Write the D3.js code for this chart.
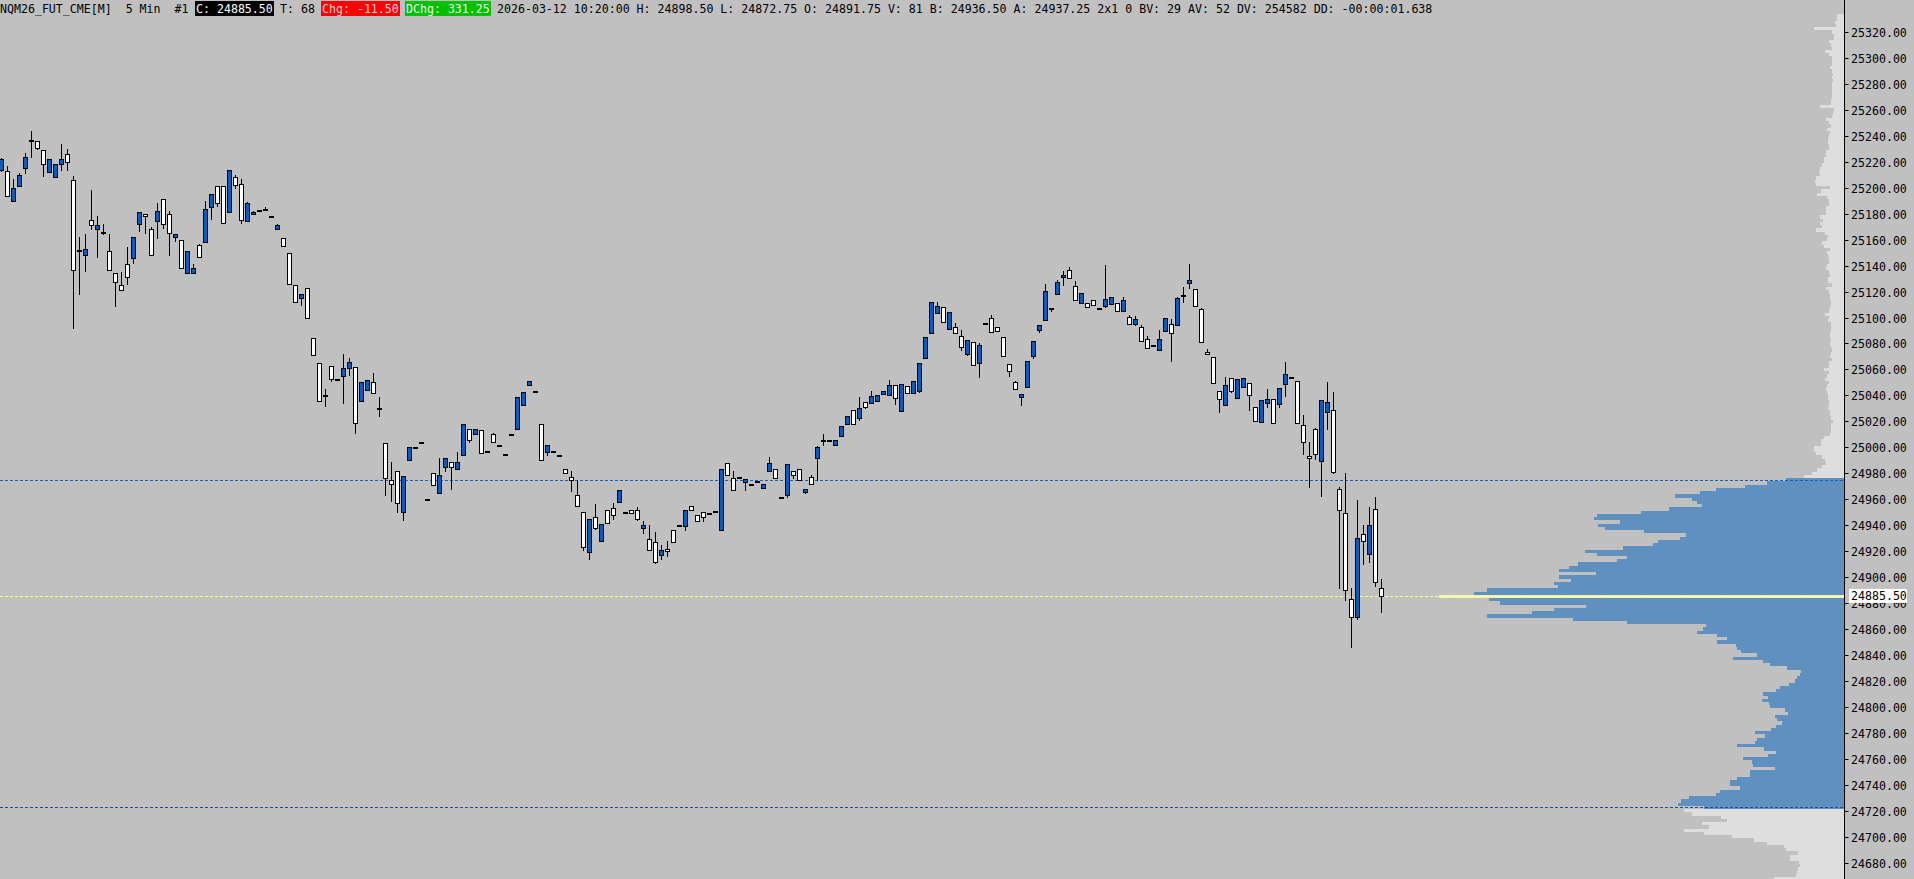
<!DOCTYPE html>
<html>
<head>
<meta charset="utf-8">
<script src="https://cdn.jsdelivr.net/npm/d3@7"></script>
<style>
  html, body { margin: 0; padding: 0; background: #c0c0c0; overflow: hidden; }
  svg { display: block; }
</style>
</head>
<body>
<svg id="chart"></svg>
<script>
var width = 1914;
var height = 879;
var axisX = 1844.5;

// 5 min bars, oldest first
var opens = [25214,25213,25190,25201,25215,25236,25236,25229,25212,25208,25218,25226,25206,25151,25148,25175,25168,25166,25151,25134,
  25125,25141,25146,25172,25180,25168,25174,25191,25180,25162,25160,25134,25134,25156,25158,25185,25201,25201,25181,25208,
  25203,25174,25180,25183,25183,25178,25168,25161,25150,25125,25115,25123,25084,25065,25040,25063,25053,25055,25061,25062,
  25036,25044,25050,25030,25003,24975,24982,24950,24990,25000,25004,24960,24980,24964.5,24984.5,24989,24983,24994,25014,25010,
  25013,24997,25010,25001.75,24994.5,25010.25,25014,25032.5,25048,25043.25,25018,24996,24997,24994,24983,24977,24963,24950,24919,24946,
  24928,24952,24953,24957.5,24950,24952,24952,24938,24929,24927,24916.75,24922,24936,24940,24939,24954.5,24948,24950,24949,24950.75,
  24936.5,24987.75,24976,24977,24973,24971.5,24974.25,24968.5,24981.5,24983,24962,24963,24981.5,24983,24965.25,24977,24992,25006,25006,25002,
  25008.5,25017.75,25028.5,25022.5,25034.75,25034,25035.5,25041,25040.25,25048,25028,25047.25,25041.75,25043.25,25068.75,25088,25103.5,25108,25091,25092.75,
  25085.75,25072,25081,25065,25095.75,25099.75,25092.75,25085,25064.25,25050.25,25038.75,25046.5,25070.25,25090.5,25098,25107.25,25118.25,25131.5,25136.75,25124.5,
  25111.25,25111.25,25113.5,25107.5,25109,25110.5,25111.25,25105,25100.5,25095,25092.75,25083.5,25079,25075,25089.75,25095,25094.25,25117,25126.75,25122,
  25106.75,25073.5,25069.5,25043.25,25032.5,25053.5,25038,25046.5,25049.5,25031,25019.5,25034,25037.25,25033.25,25048.75,25054,25051,25017,24993,25014,
  24989.25,25027,25028.75,24967.75,24949,24882.75,24869.5,24933,24917.5,24952.25,24891.75];
var highs = [25223,25217,25207,25211,25227,25244,25236,25229,25222,25218,25234,25230,25209,25162,25164,25198,25178,25172,25164,25134,
  25135,25154,25162,25181,25180,25170,25188,25191,25182,25164,25160,25151,25141,25157,25190,25195,25201,25201,25214,25210,
  25207,25189,25182,25183,25185,25178,25172,25161,25150,25125,25118,25123,25084,25065,25045,25063,25053,25072,25069,25062,
  25050,25052,25057,25039,25003,24989,24982,24978,25000,25000,25004,24960,24980,24992,24991.5,24989,24996,25018,25014,25014,
  25013,24997,25011,25001.75,24994.5,25010.25,25039,25042.5,25051,25043.25,25018,25002,24997,24994,24983,24982,24975,24950,24945,24956,
  24941,24952,24957,24967,24950,24952,24954,24943,24940,24935,24925,24927.5,24936,24940,24952,24954.5,24948,24950,24949,24950.75,
  24983,24987.75,24982,24977,24975.5,24971.5,24974.25,24971.5,24992.5,24983,24962,24987,24981.5,24983,24967.5,24978.5,25001,25010,25006,25006,
  25016.25,25024,25028.5,25038.75,25034.75,25043.25,25040.25,25043.25,25051.75,25048,25048.75,25047.25,25051,25065,25085,25112,25112,25108,25104.25,25095.75,
  25090.5,25082.75,25081,25080.5,25095.75,25102,25092.75,25085,25064.25,25051,25041,25066.5,25082,25094.25,25126,25107.25,25129,25136,25139,25128.25,
  25119,25111.25,25113.5,25107.5,25140.5,25116,25111.25,25116,25102,25101.25,25094.25,25085.75,25079,25090.5,25099.75,25099,25116,25123.5,25141.5,25122,
  25107.5,25075.75,25069.5,25043.25,25054,25053.5,25052.5,25053.5,25049.5,25031,25036.5,25045,25037.25,25045.5,25065.75,25054,25051,25024.75,25004,25014.75,
  25036.5,25050.25,25042.5,24969.25,24980,24891.25,24959.25,24940,24953.75,24961.5,24898.5];
var lows = [25213,25194,25190,25201,25211,25224,25230,25209,25212,25208,25214,25214,25092,25118,25136,25168,25147,25164,25137,25109,
  25121,25126,25142,25167,25165,25148,25161,25169,25148,25159,25138,25134,25134,25147,25158,25176,25186,25173,25181,25200,
  25173,25174,25180,25183,25183,25178,25168,25155,25126,25112,25110,25100,25071,25036,25031.5,25051,25053,25034,25056,25011,
  25036,25044,25042,25024,24963,24959,24950,24944,24990,25000,25004,24960,24971,24964.5,24982,24968,24983,24994,25004,25010,
  24995.5,24997,25004,25001.5,24994.5,25010,25014,25032.5,25048,25043.25,24990,24994,24997,24994,24980,24966,24954.5,24921,24914,24937,
  24928,24942,24945,24957.5,24950,24949,24944,24934,24920.5,24910.5,24914,24916,24927,24940,24936,24952,24943,24943,24949,24950.5,
  24936,24979,24967,24977,24967,24971.5,24974,24968.5,24981.5,24976,24960.75,24961.5,24976,24974.5,24964.5,24971.5,24974.5,25002,25006,25002,
  25008.5,25017.75,25017.75,25021,25030,25034,25035.5,25041,25040.25,25033.25,25028,25041.75,25041.75,25042.5,25068.75,25088,25103.5,25096.5,25091,25088,
  25075,25071,25063.5,25054,25095.75,25089,25089.5,25070.25,25055,25044.75,25032.5,25046.5,25068.75,25089,25098,25105,25118.25,25125.25,25130.5,25113.5,
  25111.25,25108.25,25109.75,25107.5,25108.25,25110.5,25105,25105,25095,25094.25,25082,25076.5,25079,25075,25089.75,25066.25,25094.25,25112,25123,25109,
  25081.25,25072,25049.5,25027.5,25032.5,25042.5,25038,25046.5,25028.5,25020.25,25019.5,25031,25018.5,25031,25039.5,25054,25018.5,24994.75,24969.25,24990.75,
  24962.25,25014,24980,24891.25,24882,24845.75,24868,24909.75,24912,24893.5,24872.75];
var closes = [25222,25194,25200,25210,25224,25236.5,25231,25218,25222,25218,25222,25220,25137,25152,25153,25171,25171,25166,25137,25127,
  25121,25131,25162,25181,25178,25148,25182,25172,25165,25164,25138,25151,25138,25147,25184,25195,25188,25173,25214,25202,
  25175,25188,25181,25183,25184,25178,25171,25155,25126,25112,25118,25100,25071,25036,25040,25052.5,25053,25061,25066,25019,
  25050,25052,25042,25030,24976,24971.5,24957,24978,25000,25000,25004,24960,24971,24978.5,24991.5,24984.5,24989,25018,25006,25014,
  24995.5,24997,25004,25001.5,24994.5,25010,25039,25042.5,25051,25043.25,24990,25002,24997,24994,24980,24975,24954.5,24923,24945,24937.5,
  24941,24942,24948,24967,24950,24949,24945,24940,24920.5,24912,24921,24920,24927,24940,24952,24952,24943,24946,24949,24950.5,
  24983,24979,24967,24977,24975.5,24971.5,24974,24971.5,24987.75,24976,24960.75,24987,24979,24974.5,24967.5,24971.5,25000,25006,25006,25006,
  25016.25,25024,25017.75,25030,25031,25039.5,25040.25,25043.25,25048,25038,25048.75,25041.75,25051,25065,25085,25112,25109,25096.5,25104.25,25088,
  25077.25,25082.75,25063.5,25078.75,25095.75,25089,25089.5,25070.25,25058.75,25044.75,25041,25066.5,25082,25094.25,25120.5,25107,25127.5,25133,25130.5,25113.5,
  25119,25108.25,25109.75,25107.5,25114.5,25116,25105,25113.5,25095,25099,25082,25076.5,25079,25083.5,25099.75,25088,25115.25,25116.75,25129,25109,
  25081.25,25072,25049.5,25037.25,25048,25043.25,25052.5,25053.5,25040.25,25020.25,25036.5,25037.25,25018.5,25045.5,25056.5,25054,25018.5,25004,24991.5,24994.75,
  25036.5,25034.75,24980.75,24951.5,24889.75,24869.5,24930.5,24927.5,24940.5,24896.5,24885.5];

// volume profile, one value per 2.5 pt row, from the top row down
var profileTop = 25332.5;
var profileStep = 2.5;
var profileVolumes = [7,7,9,8,30,12,10,10,15,13,
  12,19,15,12,12,12,14,12,11,12,
  11,12,12,12,12,12,13,13,24,10,
  11,12,18,15,13,17,14,15,16,16,
  15,15,18,18,20,20,22,24,25,24,
  28,29,28,14,23,27,17,15,15,18,
  18,18,24,21,24,22,28,19,16,17,
  22,20,14,17,16,15,15,17,18,15,
  14,16,16,12,18,15,14,14,
  13,13,14,15,19,15,16,13,13,13,14,14,
  13,14,13,12,13,14,12,15,15,20,
  15,17,19,15,17,18,17,16,16,15,
  15,16,14,14,13,11,13,13,13,14,
  20,23,
  23,30,30,28,22,19,18,22,27,32,40,
  58,77,99,128,144,169,152,147,142,175,
  203,247,250,224,246,239,200,158,164,186,
  191,221,259,247,217,227,266,275,285,248,
  285,273,290,286,357,370,405,355,344,258,
  290,312,357,271,217,138,141,147,127,117,
  127,108,107,103,87,111,81,74,57,43,
  44,47,49,55,64,68,81,76,82,75,
  74,59,56,69,67,62,68,73,89,79,
  87,89,107,80,68,76,101,92,91,69,
  94,94,107,114,114,104,124,128,155,163,166,140,
  160,152,123,117,142,135,160,140,112,90,
  77,60,58,46,54,54,45,44,46,47,48,70,70];
var valueAreaHigh = 24975;
var valueAreaLow = 24722.5;
var pocPrice = 24885;
var lastPrice = 24885.5;

var priceTicks = [24680,24700,24720,24740,24760,24780,24800,24820,24840,24860,24880,24900,24920,24940,24960,24980,
  25000,25020,25040,25060,25080,25100,25120,25140,25160,25180,25200,25220,25240,25260,25280,25300,25320];

var headerParts = [
  { text: "NQM26_FUT_CME[M]  5 Min  #1", bg: null, fg: "#000000" },
  { text: "C: 24885.50", bg: "#000000", fg: "#ffffff" },
  { text: "T: 68", bg: null, fg: "#000000" },
  { text: "Chg: -11.50", bg: "#ff0000", fg: "#ffd8d8" },
  { text: "DChg: 331.25", bg: "#00c000", fg: "#f0fff0" },
  { text: "2026-03-12 10:20:00 H: 24898.50 L: 24872.75 O: 24891.75 V: 81 B: 24936.50 A: 24937.25 2x1 0 BV: 29 AV: 52 DV: 254582 DD: -00:00:01.638", bg: null, fg: "#000000" }
];

var bgColor = "#c0c0c0";
var upColor = "#0060c0";
var downColor = "#ffffff";
var profileColor = "#dedede";
var valueAreaColor = "#6090c0";
var pocColor = "#f2f2b4";
var monoFont = "'DejaVu Sans Mono', 'Liberation Mono', monospace";
var charW = 7.0;

var svg = d3.select("#chart")
    .attr("width", width)
    .attr("height", height)
    .style("background", bgColor);

var y = d3.scaleLinear()
    .domain([24720, 25320])
    .range([810.7, 32]);

var x = d3.scaleLinear()
    .domain([0, opens.length - 1])
    .range([1.3, 1381.3]);

var volX = d3.scaleLinear()
    .domain([0, d3.max(profileVolumes)])
    .range([0, 405]);

var profileRows = profileVolumes.map(function (v, k) {
  return { price: profileTop - profileStep * k, vol: v };
});

// volume profile on the right
svg.append("g")
    .attr("class", "profile")
    .selectAll("rect")
    .data(profileRows)
    .enter()
    .append("rect")
    .attr("x", function (d) { return axisX - 0.5 - volX(d.vol); })
    .attr("y", function (d) { return y(d.price + profileStep / 2); })
    .attr("width", function (d) { return volX(d.vol); })
    .attr("height", function (d) { return y(d.price - profileStep / 2) - y(d.price + profileStep / 2); })
    .attr("shape-rendering", "crispEdges")
    .style("fill", function (d) {
      if (d.price === pocPrice) return pocColor;
      if (d.price <= valueAreaHigh && d.price >= valueAreaLow) return valueAreaColor;
      return profileColor;
    });

// value area lines and last price line
var hLines = [
  { price: valueAreaHigh, color: "#1a5fb4" },
  { price: valueAreaLow, color: "#1a4f9a" },
  { price: lastPrice, color: "#ffff90" }
];

svg.append("g")
    .selectAll("line")
    .data(hLines)
    .enter()
    .append("line")
    .attr("x1", 0)
    .attr("x2", axisX - 0.5)
    .attr("y1", function (d) { return Math.round(y(d.price)) + 0.5; })
    .attr("y2", function (d) { return Math.round(y(d.price)) + 0.5; })
    .attr("stroke", function (d) { return d.color; })
    .attr("stroke-width", 1)
    .attr("stroke-dasharray", "3,2");

// candles
var candles = d3.range(opens.length).map(function (i) {
  return { i: i, o: opens[i], h: highs[i], l: lows[i], c: closes[i] };
});

var candle = svg.append("g")
    .attr("class", "candles")
    .selectAll("g")
    .data(candles)
    .enter()
    .append("g");

candle.append("line")
    .attr("x1", function (d) { return Math.round(x(d.i)) + 0.5; })
    .attr("x2", function (d) { return Math.round(x(d.i)) + 0.5; })
    .attr("y1", function (d) { return Math.round(y(Math.max(d.h, d.o, d.c))); })
    .attr("y2", function (d) { return Math.round(y(Math.min(d.l, d.o, d.c))) + 1; })
    .attr("stroke", "#000")
    .attr("stroke-width", 1)
    .attr("shape-rendering", "crispEdges");

candle.append("rect")
    .attr("x", function (d) { return Math.round(x(d.i)) - 1.5; })
    .attr("y", function (d) { return Math.round(y(Math.max(d.o, d.c))) + 0.5; })
    .attr("width", 4)
    .attr("height", function (d) {
      return Math.max(1, Math.round(y(Math.min(d.o, d.c))) - Math.round(y(Math.max(d.o, d.c))));
    })
    .style("fill", function (d) { return d.c >= d.o ? upColor : downColor; })
    .attr("stroke", "#000")
    .attr("stroke-width", 1);

// price axis
svg.append("line")
    .attr("x1", axisX)
    .attr("x2", axisX)
    .attr("y1", 0)
    .attr("y2", height)
    .attr("stroke", "#000")
    .attr("stroke-width", 1);

var ticks = svg.append("g")
    .selectAll("g")
    .data(priceTicks)
    .enter()
    .append("g")
    .attr("transform", function (d) { return "translate(0," + (Math.round(y(d)) + 0.5) + ")"; });

ticks.append("line")
    .attr("x1", axisX)
    .attr("x2", axisX + 4)
    .attr("stroke", "#000");

ticks.append("text")
    .attr("x", 1851)
    .attr("dy", "0.35em")
    .text(function (d) { return d3.format(".2f")(d); })
    .style("font-family", monoFont)
    .style("font-size", "11.6px")
    .style("fill", "#000");

// last price marker
var lastG = svg.append("g")
    .attr("transform", "translate(0," + y(lastPrice) + ")");

lastG.append("rect")
    .attr("x", 1849)
    .attr("y", -7)
    .attr("width", 58)
    .attr("height", 14)
    .style("fill", "#ffffff");

lastG.append("text")
    .attr("x", 1851)
    .attr("dy", "0.35em")
    .text(d3.format(".2f")(lastPrice))
    .style("font-family", monoFont)
    .style("font-size", "11.6px")
    .style("fill", "#000");

// header line
var header = svg.append("g").attr("class", "header");
var pos = 0;
headerParts.forEach(function (p) {
  var hx = pos * charW;
  if (p.bg) {
    header.append("rect")
        .attr("x", hx - 1)
        .attr("y", 1)
        .attr("width", p.text.length * charW + 2)
        .attr("height", 15)
        .style("fill", p.bg);
  }
  header.append("text")
      .attr("x", hx)
      .attr("y", 12.5)
      .attr("xml:space", "preserve")
      .style("white-space", "pre")
      .text(p.text)
      .style("font-family", monoFont)
      .style("font-size", "11.6px")
      .style("fill", p.fg);
  pos += p.text.length + 1;
});
</script>
</body>
</html>
